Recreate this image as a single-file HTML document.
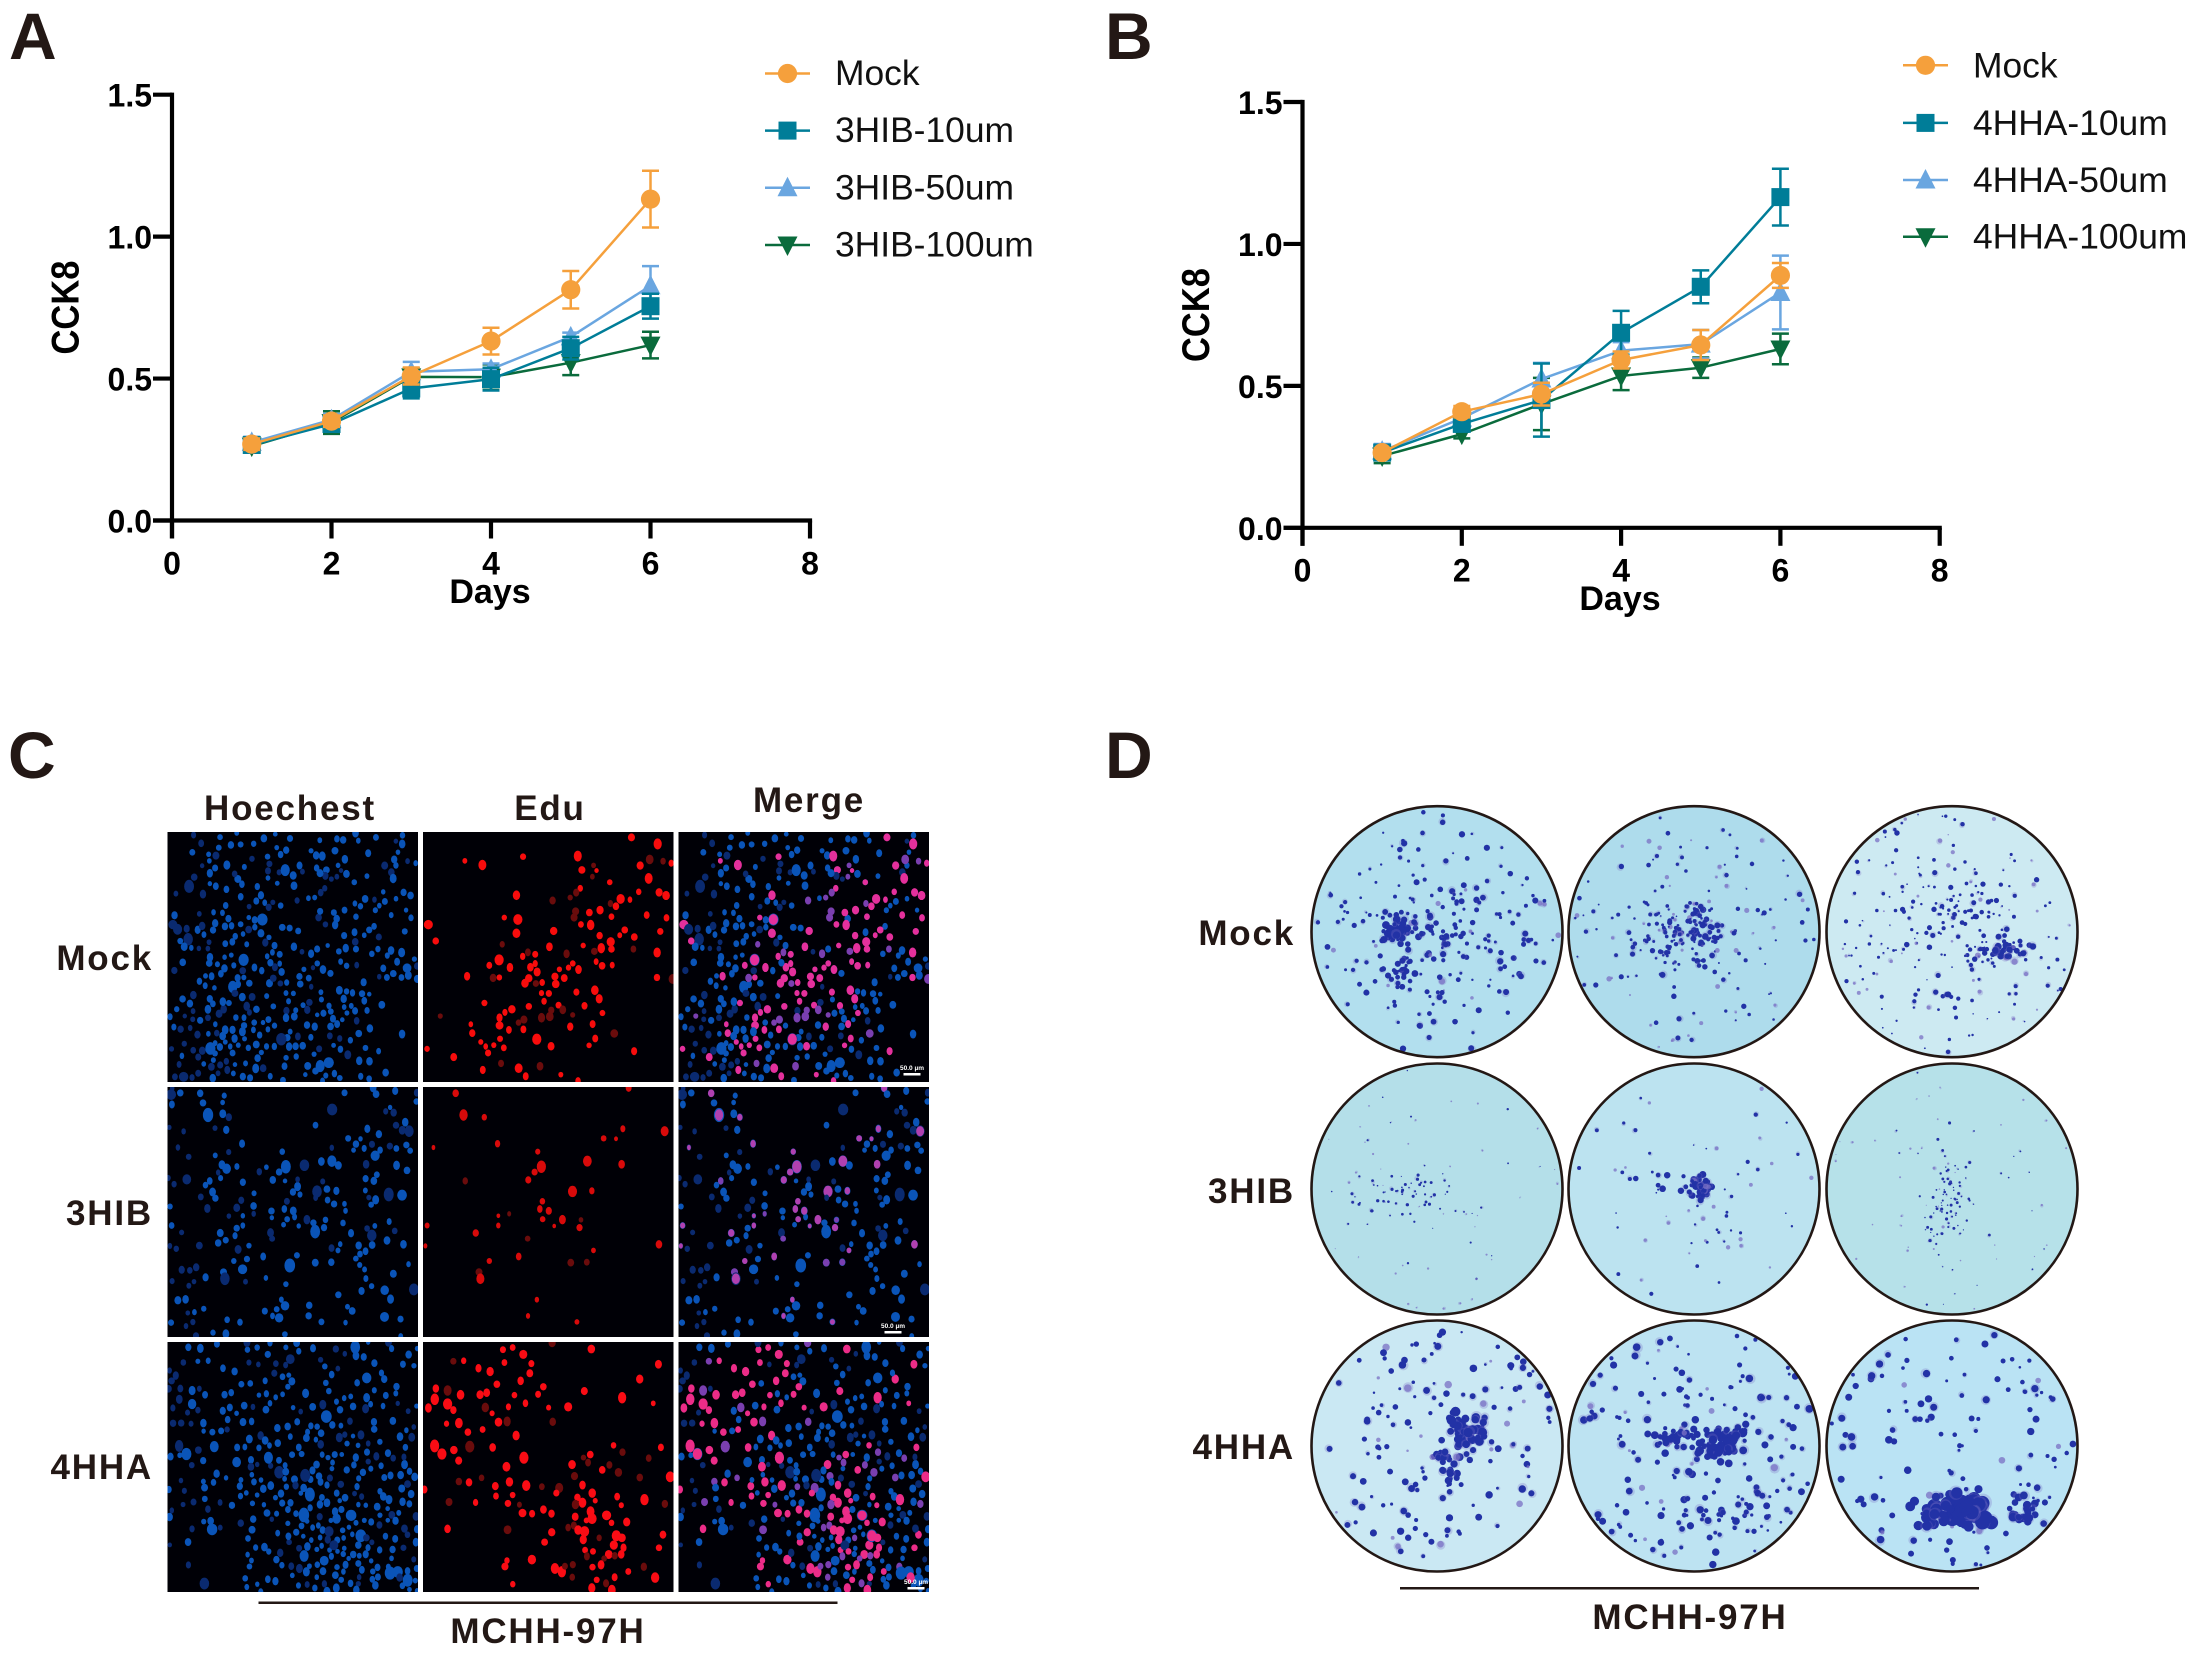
<!DOCTYPE html>
<html lang="en">
<head>
<meta charset="utf-8">
<title>CCK8, EdU and colony formation figure</title>
<style>
  html, body { margin: 0; padding: 0; background: #ffffff; }
  svg { display: block; font-family: "Liberation Sans", sans-serif; }
  .plabel { font-weight: 700; font-size: 66px; fill: #231815; }
  .ilabel { font-weight: 700; font-size: 35px; fill: #231815; letter-spacing: 1.8px; }
  .tick { font-weight: 700; font-size: 32px; fill: #000; }
  .axt { font-weight: 700; font-size: 34px; fill: #000; }
  .leg { font-size: 35.4px; fill: #111; }
</style>
</head>
<body>
<svg id="fig" xmlns="http://www.w3.org/2000/svg" width="2196" height="1653" viewBox="0 0 2196 1653">
  <rect width="2196" height="1653" fill="#ffffff"/>

  <text class="plabel" x="9" y="59">A</text>
  <text class="plabel" x="1105" y="59">B</text>
  <text class="plabel" x="8" y="778">C</text>
  <text class="plabel" x="1105" y="778">D</text>

  <g id="chartA"></g>
  <g id="chartB"></g>

  <g id="panelC"></g>
  <text class="ilabel" x="290" y="820" text-anchor="middle">Hoechest</text>
  <text class="ilabel" x="550" y="820" text-anchor="middle">Edu</text>
  <text class="ilabel" x="809" y="812" text-anchor="middle">Merge</text>
  <text class="ilabel" x="153" y="970" text-anchor="end">Mock</text>
  <text class="ilabel" x="153" y="1225" text-anchor="end">3HIB</text>
  <text class="ilabel" x="153" y="1479" text-anchor="end">4HHA</text>
  <rect x="258.5" y="1601.5" width="579" height="2.5" fill="#231815"/>
  <text class="ilabel" x="548" y="1643" text-anchor="middle">MCHH-97H</text>

  <g id="panelD"></g>
  <text class="ilabel" x="1295" y="945" text-anchor="end">Mock</text>
  <text class="ilabel" x="1295" y="1203" text-anchor="end">3HIB</text>
  <text class="ilabel" x="1295" y="1459" text-anchor="end">4HHA</text>
  <rect x="1400" y="1587" width="579" height="2.5" fill="#231815"/>
  <text class="ilabel" x="1690" y="1629" text-anchor="middle">MCHH-97H</text>
</svg>

<script>
// ---------- chart data ----------
const days = [1, 2, 3, 4, 5, 6];
const xTickValues = [0, 2, 4, 6, 8];
const xTickLabels = ["0", "2", "4", "6", "8"];
const yTickValues = [0, 0.5, 1.0, 1.5];
const yTickLabels = ["0.0", "0.5", "1.0", "1.5"];

const namesA = ["Mock", "3HIB-10um", "3HIB-50um", "3HIB-100um"];
const mockA = [0.269, 0.350, 0.509, 0.632, 0.813, 1.132];
const mockAErr = [0.020, 0.020, 0.030, 0.047, 0.066, 0.100];
const low10A = [0.266, 0.340, 0.465, 0.498, 0.607, 0.755];
const low10AErr = [0.020, 0.020, 0.035, 0.040, 0.040, 0.044];
const mid50A = [0.275, 0.355, 0.524, 0.533, 0.647, 0.827];
const mid50AErr = [0.020, 0.020, 0.035, 0.020, 0.015, 0.069];
const high100A = [0.262, 0.345, 0.506, 0.505, 0.556, 0.618];
const high100AErr = [0.020, 0.040, 0.030, 0.045, 0.044, 0.047];

const namesB = ["Mock", "4HHA-10um", "4HHA-50um", "4HHA-100um"];
const mockB = [0.265, 0.409, 0.471, 0.591, 0.644, 0.889];
const mockBErr = [0.015, 0.020, 0.040, 0.030, 0.053, 0.044];
const low10B = [0.265, 0.366, 0.450, 0.687, 0.849, 1.165];
const low10BErr = [0.020, 0.020, 0.129, 0.077, 0.058, 0.100];
const mid50B = [0.270, 0.386, 0.524, 0.624, 0.647, 0.829];
const mid50BErr = [0.025, 0.015, 0.057, 0.030, 0.050, 0.130];
const high100B = [0.253, 0.330, 0.436, 0.535, 0.564, 0.630];
const high100BErr = [0.025, 0.015, 0.092, 0.050, 0.036, 0.054];

// ---------- shared drawing helpers ----------
const NS = "http://www.w3.org/2000/svg";
function mk(tag, attrs, parent) {
  const el = document.createElementNS(NS, tag);
  for (const k in attrs) el.setAttribute(k, attrs[k]);
  parent.appendChild(el);
  return el;
}
const seriesColors = ["#f5a03c", "#007d98", "#6aa6e0", "#0a6b3c"];
const seriesShapes = ["circle", "square", "up", "down"];

function drawMarker(parent, shape, cx, cy, color) {
  let el;
  if (shape === "circle") {
    el = mk("circle", { cx: cx, cy: cy, r: 9.6, fill: color }, parent);
  } else if (shape === "square") {
    el = mk("rect", { x: cx - 9, y: cy - 9, width: 18, height: 18, fill: color }, parent);
  } else if (shape === "up") {
    el = mk("polygon", { points: (cx - 10) + "," + (cy + 8.5) + " " + (cx + 10) + "," + (cy + 8.5) + " " + cx + "," + (cy - 11), fill: color }, parent);
  } else {
    el = mk("polygon", { points: (cx - 10) + "," + (cy - 8.5) + " " + (cx + 10) + "," + (cy - 8.5) + " " + cx + "," + (cy + 11), fill: color }, parent);
  }
  
  
}

function drawChart(root, geo, names, values, errors) {
  const sx = v => geo.x0 + (v / 8) * (geo.x8 - geo.x0);
  const sy = v => geo.y0 - (v / 1.5) * (geo.y0 - geo.y15);

  // series: last series first so Mock sits on top
  for (let s = values.length - 1; s >= 0; s--) {
    const color = seriesColors[s];
    const g = mk("g", {}, root);
    
    
    days.forEach((d, i) => {
      const x = sx(d), hi = sy(values[s][i] + errors[s][i]), lo = sy(values[s][i] - errors[s][i]);
      const bar = mk("path", {
        d: "M" + x + " " + hi + "V" + lo + "M" + (x - 8.5) + " " + hi + "H" + (x + 8.5) + "M" + (x - 8.5) + " " + lo + "H" + (x + 8.5),
        fill: "none", stroke: color, "stroke-width": 2.5
      }, g);
      
      
    });
    const line = mk("polyline", {
      points: days.map((d, i) => sx(d) + "," + sy(values[s][i])).join(" "),
      fill: "none", stroke: color, "stroke-width": 2.5, "stroke-linejoin": "round"
    }, g);
    
    
    days.forEach((d, i) => drawMarker(g, seriesShapes[s], sx(d), sy(values[s][i]), color));
  }

  // axes
  const axes = mk("g", { stroke: "#000", "stroke-width": 4.2, fill: "none" }, root);
  
  
  const yAxis = mk("path", { d: "M" + geo.x0 + " " + (geo.y15 - 2.1) + "V" + (geo.y0 + 18) }, axes);
  
  
  const xAxis = mk("path", { d: "M" + (geo.x0 - 19) + " " + geo.y0 + "H" + (geo.x8 + 2.1) }, axes);
  
  

  xTickValues.forEach((v, i) => {
    const tick = mk("path", { d: "M" + sx(v) + " " + geo.y0 + "v18" }, axes);
    
    
    const t = mk("text", { x: sx(v), y: geo.xLabelY, "text-anchor": "middle", class: "tick" }, root);
    t.textContent = xTickLabels[i];
    
    
  });
  yTickValues.forEach((v, i) => {
    const tick = mk("path", { d: "M" + (geo.x0 - 19) + " " + sy(v) + "H" + geo.x0 }, axes);
    
    
    const t = mk("text", { x: geo.x0 - 20, y: sy(v) + 12, "text-anchor": "end", class: "tick" }, root);
    t.textContent = yTickLabels[i];
    
    
  });

  const xt = mk("text", { x: geo.daysX, y: geo.daysY, "text-anchor": "middle", class: "axt" }, root);
  xt.textContent = "Days";
  
  

  const yt = mk("text", {
    transform: "translate(" + geo.ylabX + " " + geo.ylabY + ") rotate(-90)",
    "text-anchor": "middle", textLength: 94, lengthAdjust: "spacingAndGlyphs",
    style: "font-weight:700;font-size:39px;fill:#000"
  }, root);
  yt.textContent = "CCK8";
  
  

  // legend
  names.forEach((n, i) => {
    const ly = geo.legY[i];
    const g = mk("g", {}, root);
    
    
    const l = mk("line", { x1: geo.legX, x2: geo.legX + 45, y1: ly, y2: ly, stroke: seriesColors[i], "stroke-width": 2.5 }, g);
    
    
    drawMarker(g, seriesShapes[i], geo.legX + 22.5, ly, seriesColors[i]);
    const t = mk("text", { x: geo.legX + 70, y: ly + geo.legDy, class: "leg" }, g);
    t.textContent = n;
    
    
  });
}

drawChart(document.getElementById("chartA"),
  { x0: 172, x8: 810, y0: 520.5, y15: 94.7, xLabelY: 574.5, daysX: 490, daysY: 603, ylabX: 78.5, ylabY: 307.5, legX: 765, legDy: 11.5, legY: [73.5, 130.6, 187.8, 245] },
  namesA, [mockA, low10A, mid50A, high100A], [mockAErr, low10AErr, mid50AErr, high100AErr]);

drawChart(document.getElementById("chartB"),
  { x0: 1302.5, x8: 1939.7, y0: 527.8, y15: 102, xLabelY: 581.5, daysX: 1620, daysY: 610, ylabX: 1209, ylabY: 315, legX: 1903, legDy: 12, legY: [65.3, 122.9, 180, 236.7] },
  namesB, [mockB, low10B, mid50B, high100B], [mockBErr, low10BErr, mid50BErr, high100BErr]);

// ---------- image-like panels (texture only, seeded) ----------
function rng(seed) {
  let a = seed >>> 0;
  return function () {
    a = (a + 0x6D2B79F5) >>> 0;
    let t = a;
    t = Math.imul(t ^ (t >>> 15), t | 1);
    t ^= t + Math.imul(t ^ (t >>> 7), t | 61);
    return ((t ^ (t >>> 14)) >>> 0) / 4294967296;
  };
}
function gauss(r) {
  return Math.sqrt(-2 * Math.log(r() + 1e-9)) * Math.cos(2 * Math.PI * r());
}
const bump = (x, y, cx, cy, s) => Math.exp(-((x - cx) * (x - cx) + (y - cy) * (y - cy)) / (2 * s * s));

// Panel C: fluorescence micrographs
const panelColumns = [167.5, 423, 678.5];
const panelRows = [832, 1087, 1342];
const panelW = 250.5, panelH = 250;
const rowDefs = [
  { seed: 11, n: 400, hot: [[.5, .55, .3, .3], [.3, .8, .16, .12]],
    empty: (x, y) => (x > .82 && y > .62) || (x < .08 && y < .3),
    red: (x, y) => .05 + .6 * bump(x, y, .85, .18, .17) + .4 * bump(x, y, .72, .42, .15) + .4 * bump(x, y, .5, .48, .14) + .5 * bump(x, y, .42, .75, .15) + .2 * bump(x, y, .2, .6, .1),
    redColor: "#f80c0c", pink: "#e4309c", big: 1.05 },
  { seed: 23, n: 215, hot: [[.45, .5, .18, .2], [.85, .2, .12, .1], [.12, .8, .12, .1], [.82, .62, .1, .08]],
    empty: (x, y) => (x > .25 && x < .6 && y < .28),
    red: (x, y) => .07 + .3 * bump(x, y, .8, .17, .1) + .3 * bump(x, y, .28, .65, .12) + .2 * bump(x, y, .4, .5, .15) + .12 * bump(x, y, .55, .8, .15),
    redColor: "#d80a0a", pink: "#b040b0", big: .85 },
  { seed: 37, n: 410, hot: [[.6, .62, .24, .28], [.78, .85, .13, .14]],
    empty: (x, y) => (x < .28 && y > .75) || (x < .1 && y < .08),
    red: (x, y) => .22 + .3 * bump(x, y, .7, .65, .2) + .35 * bump(x, y, .12, .2, .12) + .4 * bump(x, y, .42, .14, .14) + .25 * bump(x, y, .75, .88, .12),
    redColor: "#fa0c14", pink: "#ec2c88", big: 1.1 }
];
const rowNames = ["mock", "3hib", "4hha"];
const colNames = ["hoechst", "edu", "merge"];
const panelC = document.getElementById("panelC");
const defs = mk("defs", {}, panelC);

rowDefs.forEach((def, ri) => {
  const r = rng(def.seed);
  const cells = [];
  let guard = 0;
  while (cells.length < def.n && guard < 60000) {
    guard++;
    let x, y;
    const pick = r();
    let acc = 0, chosen = null;
    for (const h of def.hot) { acc += h[3]; if (pick < acc) { chosen = h; break; } }
    if (chosen) { x = chosen[0] + gauss(r) * chosen[2]; y = chosen[1] + gauss(r) * chosen[2]; }
    else { x = r(); y = r(); }
    if (x < 0 || x > 1 || y < 0 || y > 1) continue;
    if (def.empty(x, y) && r() < .85) continue;
    if (cells.some(c => (c.x - x) * (c.x - x) + (c.y - y) * (c.y - y) < 0.00055)) continue;
    const big = r() < .05;
    const rx = (big ? 4.2 + r() * 1.2 : 2.2 + r() * 1.3);
    const dim = r() < .2 || (x < .14 && r() < .6);
    cells.push({ x: x, y: y, rx: rx, ry: rx * (1.05 + r() * .35), dim: dim,
                 isRed: r() < def.red(x, y), rs: def.big * (.95 + r() * .25), rdim: r() < .22 });
  }
  panelColumns.forEach((cx, ci) => {
    const cy = panelRows[ri];
    const clipId = "clip-" + ri + "-" + ci;
    const cp = mk("clipPath", { id: clipId }, defs);
    mk("rect", { x: cx, y: cy, width: panelW, height: panelH }, cp);
    const g = mk("g", { "clip-path": "url(#" + clipId + ")" }, panelC);
    
    
    mk("rect", { x: cx, y: cy, width: panelW, height: panelH, fill: "#000006" }, g);
    cells.forEach(c => {
      const px = cx + c.x * panelW, py = cy + c.y * panelH;
      if (ci !== 1) {
        const e = mk("ellipse", { cx: px, cy: py, rx: c.rx, ry: c.ry, fill: c.dim ? "#0a2a70" : "#0a54b8" }, g);
        
        
      }
      if (ci !== 0 && c.isRed) {
        const fill = ci === 1 ? (c.rdim ? "#6a0c0c" : def.redColor) : (c.rdim ? "#7a3fb0" : def.pink);
        const rxRed = Math.min(c.rx * c.rs, 4.6);
        const e = mk("ellipse", { cx: px, cy: py, rx: rxRed, ry: rxRed * (c.ry / c.rx), fill: fill }, g);
        
        
      }
    });
  });
});

const scaleBarX = [912, 893, 916];
const scaleBarY = [1073, 1331, 1587];
scaleBarX.forEach((x, i) => {
  const g = mk("g", {}, panelC);
  
  
  mk("rect", { x: x - 8.5, y: scaleBarY[i], width: 17, height: 2.5, fill: "#fff" }, g);
  const t = mk("text", { x: x, y: scaleBarY[i] - 3, "text-anchor": "middle", style: "font-size:6.5px;font-weight:700;fill:#fff" }, g);
  t.textContent = "50.0 \u00b5m";
});

// Panel D: stained colony dishes
const dishX = [1437, 1694, 1952];
const dishY = [931.7, 1189, 1446];
const dishR = 125.5;
const dishDefs = [
  { bg: "#b2dfee", seed: 101, scatter: [110, 1, 3.2, .9],
    clusters: [[-38, 0, 9, 6, 42, 2, 4], [-33, 42, 7, 8, 16, 2, 3.4], [12, 5, 12, 7, 20, 1.5, 3], [15, -5, 52, 38, 110, 1.2, 3.2]] },
  { bg: "#aedcec", seed: 102, scatter: [120, .9, 2.7, .7],
    clusters: [[3, -13, 12, 11, 36, 1.2, 3.4], [-10, 16, 24, 18, 70, 1, 3], [-25, -8, 26, 12, 40, .8, 2.2]] },
  { bg: "#cdeaf2", seed: 103, scatter: [130, .7, 2.3, .65],
    clusters: [[52, 18, 13, 6, 46, 1.2, 3.6], [12, -18, 32, 26, 80, .9, 2.8], [-10, 66, 14, 5, 8, 2, 3], [-70, 20, 20, 40, 30, .7, 1.8]] },
  { bg: "#b4dfe9", seed: 104, scatter: [55, .5, 1.2, .4],
    clusters: [[-30, 6, 28, 12, 60, .6, 1.7]] },
  { bg: "#bce3f0", seed: 105, scatter: [50, .7, 2.2, .5],
    clusters: [[6, -1, 6, 6, 52, 1.8, 3.6], [-38, -14, 14, 7, 8, 2, 3.8], [20, 25, 15, 20, 12, .8, 1.8]] },
  { bg: "#b6e1e9", seed: 106, scatter: [55, .5, 1.2, .4],
    clusters: [[-4, 18, 12, 32, 85, .6, 1.6]] },
  { bg: "#cae8f3", seed: 107, scatter: [150, 1.2, 3.8, .85],
    clusters: [[28, -14, 8, 10, 52, 2.6, 5], [8, 10, 8, 4, 14, 2.4, 4.2], [13, 27, 5, 7, 14, 2.4, 4]] },
  { bg: "#bde3f2", seed: 108, scatter: [175, 1.3, 3.9, .92],
    clusters: [[24, -1, 13, 9, 62, 2.6, 4.8], [-14, -8, 16, 5, 30, 2, 4], [45, 60, 20, 10, 14, 1.6, 3]] },
  { bg: "#bae3f4", seed: 109, scatter: [125, 1.3, 3.8, .9],
    clusters: [[17, 62, 11, 7, 90, 4, 7.5], [-18, 66, 9, 7, 30, 3, 5.5], [74, 66, 9, 7, 20, 2.6, 4.5]] }
];
const panelD = document.getElementById("panelD");
dishDefs.forEach((def, i) => {
  const cx = dishX[i % 3], cy = dishY[Math.floor(i / 3)];
  const r = rng(def.seed);
  const clipId = "dish-clip-" + i;
  const cp = mk("clipPath", { id: clipId }, panelD);
  mk("circle", { cx: cx, cy: cy, r: dishR }, cp);
  const g = mk("g", { "clip-path": "url(#" + clipId + ")" }, panelD);
  
  
  mk("circle", { cx: cx, cy: cy, r: dishR, fill: def.bg }, g);
  function colony(x, y, rad, op) {
    if (r() < .4) {
      const halo = mk("circle", { cx: x + r() * 2 - 1, cy: y + r() * 2 - 1, r: Math.min(rad * 1.4, rad + 1.5), fill: "#7a70c4", opacity: .28 }, g);
      
      
    }
    const dark = r() < op;
    const c = mk("circle", { cx: x, cy: y, r: rad, fill: dark ? "#2232a6" : "#7a70c4", opacity: dark ? 1 : .75 }, g);
    
    
  }
  const sc = def.scatter;
  for (let k = 0; k < sc[0]; k++) {
    const a = r() * Math.PI * 2, d = Math.sqrt(r()) * dishR * .98;
    colony(cx + Math.cos(a) * d, cy + Math.sin(a) * d, sc[1] + r() * (sc[2] - sc[1]), sc[3]);
  }
  def.clusters.forEach(cl => {
    for (let k = 0; k < cl[4]; k++) {
      colony(cx + cl[0] + gauss(r) * cl[2], cy + cl[1] + gauss(r) * cl[3], cl[5] + r() * (cl[6] - cl[5]), .95);
    }
  });
  const ring = mk("circle", { cx: cx, cy: cy, r: dishR, fill: "none", stroke: "#231815", "stroke-width": 2.6 }, panelD);
  
  
});
</script>
</body>
</html>
